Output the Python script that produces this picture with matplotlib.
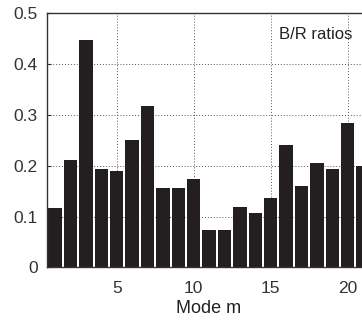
import numpy as np
import matplotlib.pyplot as plt

plt.rcParams['font.family'] = ['Liberation Sans', 'DejaVu Sans']

modes = np.arange(1, 22)
ratios = [0.117, 0.211, 0.447, 0.194, 0.190, 0.250, 0.317, 0.157, 0.157, 0.174,
          0.073, 0.073, 0.119, 0.106, 0.136, 0.241, 0.161, 0.205, 0.193, 0.285, 0.200]

fig = plt.figure(figsize=(3.62, 3.28), dpi=100)
ax = fig.add_axes([0.131, 0.185, 0.893, 0.774])

ax.bar(modes, ratios, width=0.87, color='#231f20', zorder=2)

ax.set_xlim(0.5, 21.5)
ax.set_ylim(0, 0.5)
ax.set_xticks([5, 10, 15, 20])
ax.set_yticks([0, 0.1, 0.2, 0.3, 0.4, 0.5])
ax.set_yticklabels(['0', '0.1', '0.2', '0.3', '0.4', '0.5'])
ax.tick_params(labelsize=12.5, length=3, direction='in', colors='#333333')
ax.tick_params(axis='x', pad=10)
ax.tick_params(axis='y', pad=7)
ax.grid(True, linestyle=(0, (1, 2)), color='#555555', linewidth=0.7, zorder=0)
ax.set_axisbelow(True)
for s in ax.spines.values():
    s.set_color('#333333')
    s.set_linewidth(1.0)

ax.set_xlabel('Mode m', fontsize=13, color='#222222', labelpad=3)
ax.text(17.95, 0.459, 'B/R ratios', fontsize=12, color='#222222', ha='center', va='center')

fig.savefig('out.png', dpi=100)
